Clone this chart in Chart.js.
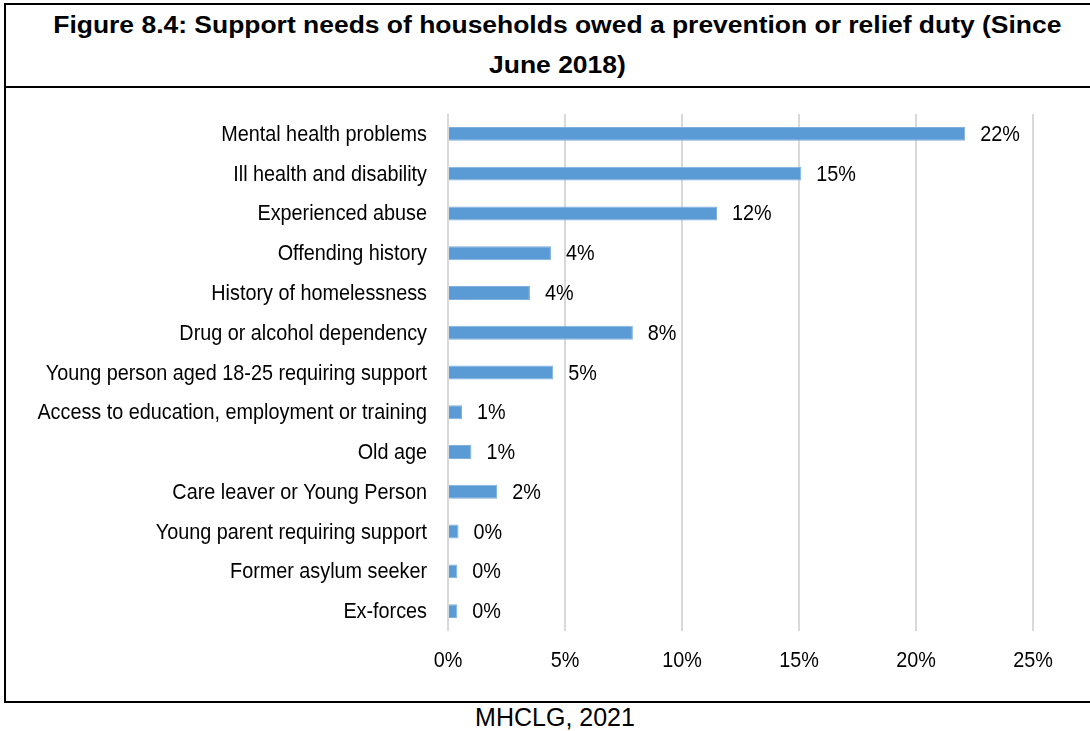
<!DOCTYPE html>
<html>
<head>
<meta charset="utf-8">
<script src="https://cdn.jsdelivr.net/npm/chart.js@4"></script>
<style>
  html, body { margin: 0; padding: 0; background: #fff; overflow: hidden; }
  body { width: 1090px; height: 731px; position: relative; font-family: "Liberation Sans", Arial, sans-serif; }
  #frame {
    position: absolute; left: 4px; top: 3px; width: 1106px; height: 700px;
    border: 2px solid #000; box-sizing: border-box;
  }
  #title {
    position: absolute; left: 0; top: 0; width: 100%; height: 81px;
    border-bottom: 2px solid #000; text-align: center;
    font-weight: bold; font-size: 23px; line-height: 40px;
  }
  #title span { display: inline-block; transform: scaleX(1.15); white-space: nowrap; }
  #wrap { position: absolute; left: 5px; top: 89px; width: 1085px; height: 611px; }
  #source {
    position: absolute; left: 0; width: 1110px; top: 702px; text-align: center;
    font-size: 25px; line-height: 30px; color: #000;
  }
</style>
</head>
<body>
<div id="frame">
  <div id="title"><span>Figure 8.4: Support needs of households owed a prevention or relief duty (Since</span><br><span>June 2018)</span></div>
</div>
<div id="wrap"><canvas id="chart"></canvas></div>
<div id="source">MHCLG, 2021</div>

<script>
const needs = [
  "Mental health problems",
  "Ill health and disability",
  "Experienced abuse",
  "Offending history",
  "History of homelessness",
  "Drug or alcohol dependency",
  "Young person aged 18-25 requiring support",
  "Access to education, employment or training",
  "Old age",
  "Care leaver or Young Person",
  "Young parent requiring support",
  "Former asylum seeker",
  "Ex-forces",
];
const shares = [22.1, 15.1, 11.5, 4.4, 3.5, 7.9, 4.5, 0.6, 1.0, 2.1, 0.45, 0.4, 0.4];
const tickValues = [0, 5, 10, 15, 20, 25];

const textFont = '22px "Liberation Sans", Arial, sans-serif';
const squeeze = 0.9;

// narrow text, like the condensed face of the original figure
function drawText(ctx, text, x, y, align) {
  ctx.save();
  ctx.translate(x, y);
  ctx.scale(squeeze, 1);
  ctx.textAlign = align;
  ctx.fillText(text, 0, 0);
  ctx.restore();
}

// category names, axis ticks and the percentage past each bar
const chartText = {
  id: "chartText",
  afterDatasetsDraw(chart) {
    const ctx = chart.ctx;
    const xs = chart.scales.x;
    const ys = chart.scales.y;
    ctx.save();
    ctx.font = textFont;
    ctx.fillStyle = "#000";
    ctx.textBaseline = "middle";
    needs.forEach((name, i) => {
      drawText(ctx, name, chart.chartArea.left - 21, ys.getPixelForTick(i) + 1, "right");
    });
    tickValues.forEach((v) => {
      drawText(ctx, v + "%", xs.getPixelForValue(v), chart.chartArea.bottom + 30, "center");
    });
    chart.getDatasetMeta(0).data.forEach((bar, i) => {
      drawText(ctx, Math.round(shares[i]) + "%", bar.x + 15, bar.y + 1, "left");
    });
    ctx.restore();
  },
};

new Chart(document.getElementById("chart"), {
  type: "bar",
  data: {
    labels: needs,
    datasets: [
      {
        data: shares,
        backgroundColor: "#5b9bd5",
        borderColor: "#7fb0de",
        borderWidth: 1,
        barPercentage: 0.7,
        categoryPercentage: 0.5,
      },
    ],
  },
  options: {
    indexAxis: "y",
    responsive: true,
    maintainAspectRatio: false,
    animation: false,
    layout: { padding: { top: 25, right: 57, bottom: 0, left: 0 } },
    plugins: { legend: { display: false }, tooltip: { enabled: false } },
    scales: {
      x: {
        min: 0,
        max: 25,
        afterBuildTicks: (s) => { s.ticks = tickValues.map((v) => ({ value: v })); },
        afterFit: (s) => { s.height = 69; },
        grid: { color: "#d9d9d9", lineWidth: 2, drawTicks: false },
        border: { display: false },
        ticks: { display: false },
      },
      y: {
        afterFit: (s) => { s.width = 443; },
        grid: { display: false, drawTicks: false },
        border: { display: false },
        ticks: { display: false },
      },
    },
  },
  plugins: [chartText],
});
</script>
</body>
</html>
